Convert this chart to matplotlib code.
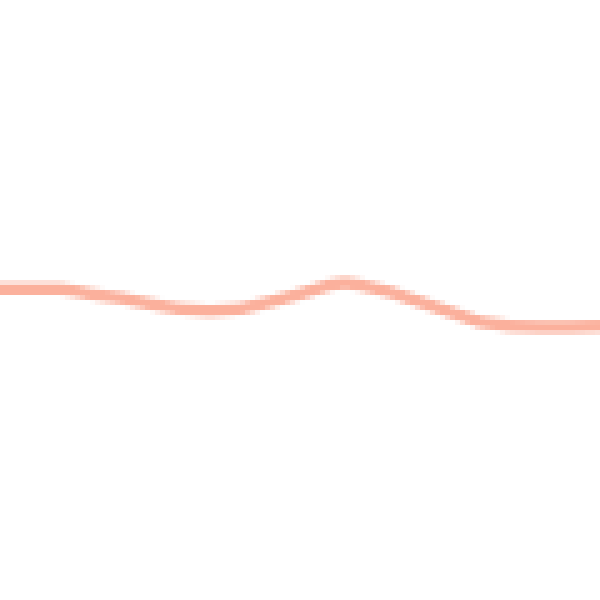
import numpy as np
import matplotlib
matplotlib.use("Agg")
import matplotlib.pyplot as plt

# positions along the line and its height
xs = [0, 30, 60, 75, 90, 120, 150, 180, 210, 240, 270, 300, 330, 345,
      360, 390, 420, 450, 480, 510, 540, 570, 600]
levels = [311, 311, 311, 309, 306, 302, 296, 291, 289, 291, 298, 306,
          315, 317, 315, 308, 298, 288, 278, 274, 273, 273, 274]

# draw small, then blow up so it looks blocky like the reference
fig = plt.figure(figsize=(1.2, 1.2), dpi=100)
ax = fig.add_axes([0, 0, 1, 1])
ax.plot(xs, levels, color="#fbb09c", linewidth=1.7, solid_capstyle="butt")
ax.set_xlim(0, 600)
ax.set_ylim(0, 600)
ax.axis("off")
fig.canvas.draw()
small = np.asarray(fig.canvas.buffer_rgba())[:, :, :3]
plt.close(fig)

big = np.repeat(np.repeat(small, 5, axis=0), 5, axis=1)
plt.imsave("out.png", big)
